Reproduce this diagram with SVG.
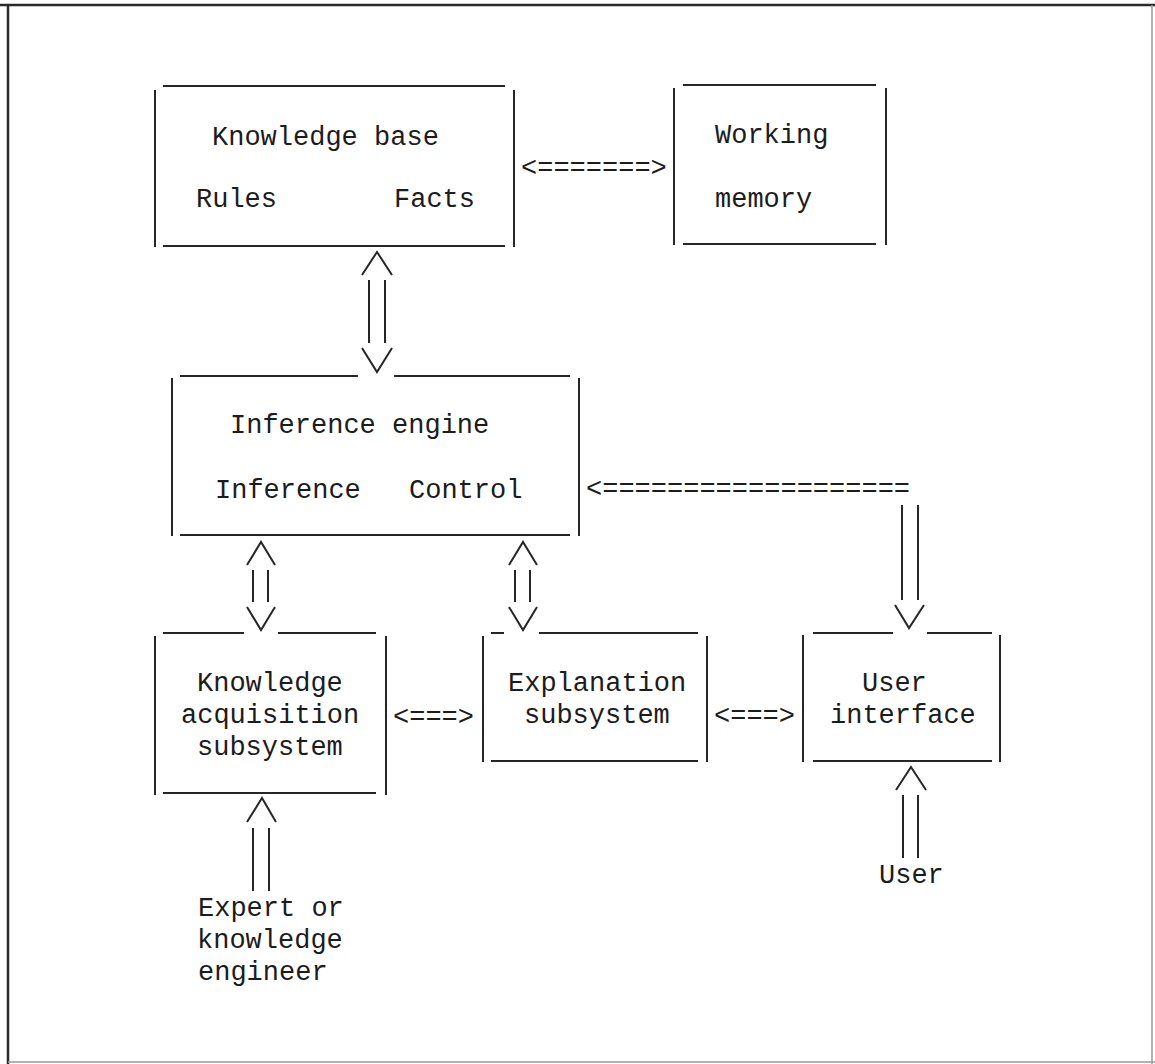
<svg xmlns="http://www.w3.org/2000/svg" width="1155" height="1064" viewBox="0 0 1155 1064">
<style>
  .t { font-family: "Liberation Mono", "Courier New", monospace; font-size: 27px; fill: #1c1c1c; }
  .ln { stroke: #262626; stroke-width: 2; fill: none; stroke-linecap: butt; }
  .frame { stroke: #2a2a2a; stroke-width: 2.5; fill: none; }
  .frame2 { stroke: #9a9a9a; stroke-width: 1.5; fill: none; }
</style>
<rect x="0" y="0" width="1155" height="1064" fill="#ffffff"/>
<g id="frame">
  <line class="frame" x1="0" y1="5" x2="1155" y2="5"/>
  <line class="frame" x1="8" y1="4" x2="8" y2="1064"/>
  <line class="frame2" x1="1152" y1="5" x2="1152" y2="1064"/>
  <line class="frame2" x1="8" y1="1062" x2="1155" y2="1062"/>
</g>

<g id="knowledge-base">
  <path class="ln" d="M163 86H505 M163 246H505 M155 90V247 M514 90V247"/>
  <text class="t" x="212" y="145">Knowledge base</text>
  <text class="t" x="196" y="207">Rules</text>
  <text class="t" x="394" y="207">Facts</text>
</g>

<g id="working-memory">
  <path class="ln" d="M683 85H876 M683 244H876 M674 88V245 M886 88V245"/>
  <text class="t" x="715" y="143">Working</text>
  <text class="t" x="715" y="207">memory</text>
</g>

<g id="inference-engine">
  <path class="ln" d="M180 376H358 M394 376H570 M180 535H570 M172 378V536 M579 378V536"/>
  <text class="t" x="230" y="433">Inference engine</text>
  <text class="t" x="215" y="498">Inference</text>
  <text class="t" x="409" y="498">Control</text>
</g>

<g id="knowledge-acquisition">
  <path class="ln" d="M163 633H244 M278 633H376 M163 793H376 M155 636V795 M386 636V795"/>
  <text class="t" x="197" y="691">Knowledge</text>
  <text class="t" x="181" y="723">acquisition</text>
  <text class="t" x="197" y="755">subsystem</text>
</g>

<g id="explanation">
  <path class="ln" d="M491 633H504 M539 633H698 M491 761H698 M483 636V762 M707 636V762"/>
  <text class="t" x="508" y="691">Explanation</text>
  <text class="t" x="524" y="723">subsystem</text>
</g>

<g id="user-interface">
  <path class="ln" d="M813 633H893 M927 633H992 M813 761H992 M803 635V762 M1000 635V762"/>
  <text class="t" x="862" y="691">User</text>
  <text class="t" x="830" y="723">interface</text>
</g>

<g id="user">
  <text class="t" x="879" y="883">User</text>
</g>

<g id="expert">
  <text class="t" x="198" y="916">Expert or</text>
  <text class="t" x="197" y="948">knowledge</text>
  <text class="t" x="198" y="980">engineer</text>
</g>

<g id="connectors">
  <!-- KB <-> WM -->
  <text class="t" x="521" y="176">&lt;=======&gt;</text>
  <!-- KB <-> IE -->
  <path class="ln" d="M362 275L377 252L392 275 M369 280V343 M385 280V343 M362 348L377 372L392 348"/>
  <!-- IE <-> KA -->
  <path class="ln" d="M247 565L261 542L275 565 M253 570V602 M268 570V602 M247 607L261 630L275 607"/>
  <!-- IE <-> Explanation -->
  <path class="ln" d="M509 565L523 542L537 565 M515 570V602 M530 570V602 M509 607L523 630L537 607"/>
  <!-- UI -> IE -->
  <text class="t" x="586" y="497">&lt;===================</text>
  <path class="ln" d="M902 505V600 M918 505V600 M895 605L909 628L924 605"/>
  <!-- KA <-> Explanation -->
  <text class="t" x="393" y="725">&lt;===&gt;</text>
  <!-- Explanation <-> UI -->
  <text class="t" x="714" y="724">&lt;===&gt;</text>
  <!-- User -> UI -->
  <path class="ln" d="M896 790L911 767L926 790 M903 795V858 M918 795V858"/>
  <!-- Expert -> KA -->
  <path class="ln" d="M247 822L262 798L276 822 M253 828V891 M269 828V891"/>
</g>
</svg>
